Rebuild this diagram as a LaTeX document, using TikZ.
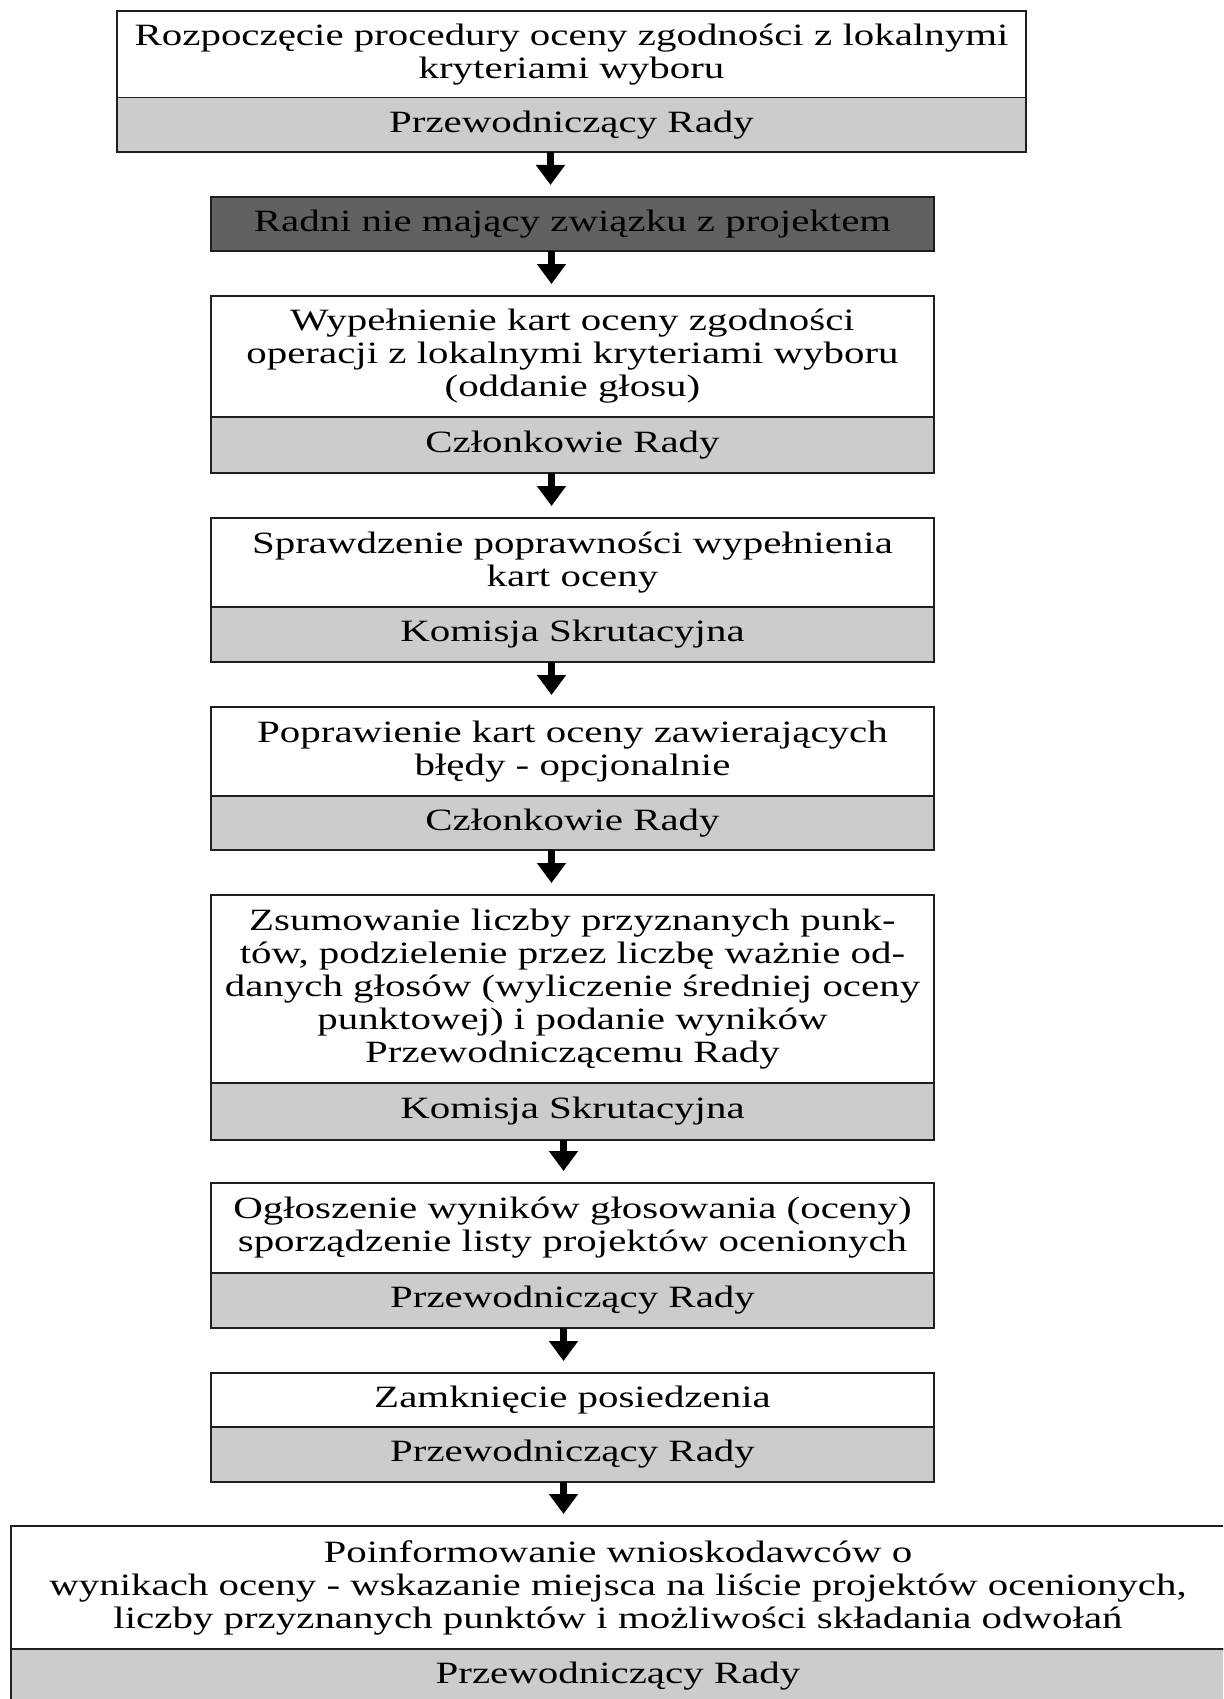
\documentclass[tikz,border=0pt]{standalone}
\usepackage{fontspec}
\setmainfont{Liberation Serif}[FakeStretch=1.32]
\usetikzlibrary{arrows.meta,calc}
\definecolor{lightbox}{gray}{0.80}
\definecolor{darkbox}{gray}{0.38}
\definecolor{edge}{gray}{0.12}
\tikzset{
  part/.style={draw=edge, line width=1.8pt, anchor=north west, inner sep=0pt, outer sep=0pt,
    align=center, font=\fontsize{31}{33}\selectfont},
  toppart/.style={part, fill=white},
  graypart/.style={part, fill=lightbox},
  darkpart/.style={part, fill=darkbox},
  arr/.style={line width=7pt, -{Triangle[width=28pt,length=20pt]}},
}
\begin{document}
\begin{tikzpicture}[x=1pt,y=-1pt]
\useasboundingbox (0,0) rectangle (1223,1699);
\clip (0,0) rectangle (1223,1699);
\fill[white] (0,0) rectangle (1223,1699);
% box 1
\node[toppart, minimum width=909pt, minimum height=86.5pt] (b1) at (117,11) {Rozpoczęcie procedury oceny zgodności z lokalnymi\\kryteriami wyboru};
\node[graypart, minimum width=909pt, minimum height=54.5pt] (b1g) at (117,97.5) {Przewodniczący Rady};
% box 2
\node[darkpart, minimum width=723pt, minimum height=54pt] (b2) at (211,197) {Radni nie mający związku z projektem};
% box 3
\node[toppart, minimum width=723pt, minimum height=121pt] (b3) at (211,296) {Wypełnienie kart oceny zgodności\\operacji z lokalnymi kryteriami wyboru\\(oddanie głosu)};
\node[graypart, minimum width=723pt, minimum height=56pt] (b3g) at (211,417) {Członkowie Rady};
% box 4
\node[toppart, minimum width=723pt, minimum height=89pt] (b4) at (211,518) {Sprawdzenie poprawności wypełnienia\\kart oceny};
\node[graypart, minimum width=723pt, minimum height=55pt] (b4g) at (211,607) {Komisja Skrutacyjna};
% box 5
\node[toppart, minimum width=723pt, minimum height=89pt] (b5) at (211,707) {Poprawienie kart oceny zawierających\\błędy - opcjonalnie};
\node[graypart, minimum width=723pt, minimum height=54pt] (b5g) at (211,796) {Członkowie Rady};
% box 6
\node[toppart, minimum width=723pt, minimum height=188pt] (b6) at (211,895) {Zsumowanie liczby przyznanych punk-\\tów, podzielenie przez liczbę ważnie od-\\danych głosów (wyliczenie średniej oceny\\punktowej) i podanie wyników\\Przewodniczącemu Rady};
\node[graypart, minimum width=723pt, minimum height=57pt] (b6g) at (211,1083) {Komisja Skrutacyjna};
% box 7
\node[toppart, minimum width=723pt, minimum height=90pt] (b7) at (211,1183) {Ogłoszenie wyników głosowania (oceny)\\sporządzenie listy projektów ocenionych};
\node[graypart, minimum width=723pt, minimum height=55pt] (b7g) at (211,1273) {Przewodniczący Rady};
% box 8
\node[toppart, minimum width=723pt, minimum height=54pt] (b8) at (211,1373) {Zamknięcie posiedzenia};
\node[graypart, minimum width=723pt, minimum height=55pt] (b8g) at (211,1427) {Przewodniczący Rady};
% box 9
\node[toppart, minimum width=1214pt, minimum height=123pt] (b9) at (11,1526) {Poinformowanie wnioskodawców o\\wynikach oceny - wskazanie miejsca na liście projektów ocenionych,\\liczby przyznanych punktów i możliwości składania odwołań};
\node[graypart, minimum width=1214pt, minimum height=55pt] (b9g) at (11,1649) {Przewodniczący Rady};
% arrows
\coordinate (a1) at ([xshift=-21pt]b1g.south);
\coordinate (a2) at ([xshift=-21pt]b2.south);
\coordinate (a3) at ([xshift=-21pt]b3g.south);
\coordinate (a4) at ([xshift=-21pt]b4g.south);
\coordinate (a5) at ([xshift=-21pt]b5g.south);
\coordinate (a6) at ([xshift=-9pt]b6g.south);
\coordinate (a7) at ([xshift=-9pt]b7g.south);
\coordinate (a8) at ([xshift=-9pt]b8g.south);
\draw[arr] (a1) -- ($(a1 |- b2.north)+(0,-12)$);
\draw[arr] (a2) -- ($(a2 |- b3.north)+(0,-12)$);
\draw[arr] (a3) -- ($(a3 |- b4.north)+(0,-12)$);
\draw[arr] (a4) -- ($(a4 |- b5.north)+(0,-12)$);
\draw[arr] (a5) -- ($(a5 |- b6.north)+(0,-12)$);
\draw[arr] (a6) -- ($(a6 |- b7.north)+(0,-12)$);
\draw[arr] (a7) -- ($(a7 |- b8.north)+(0,-12)$);
\draw[arr] (a8) -- ($(a8 |- b9.north)+(0,-12)$);
\end{tikzpicture}
\end{document}
